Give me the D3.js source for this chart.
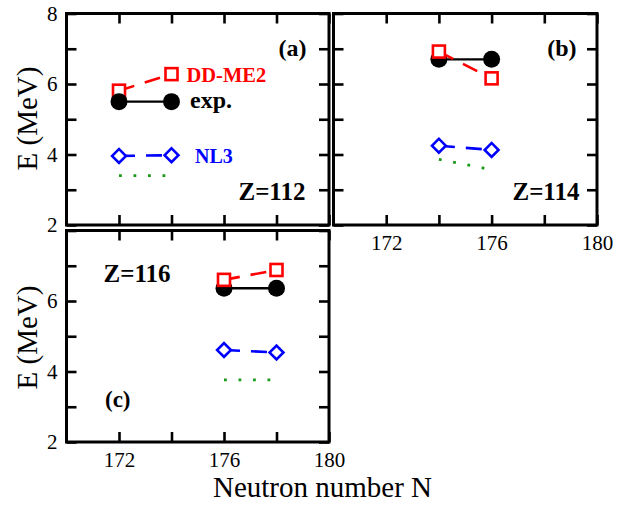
<!DOCTYPE html>
<html>
<head>
<meta charset="utf-8">
<script src="https://cdn.jsdelivr.net/npm/d3@7"></script>
<style>
    body { margin: 0; background: #fff; }
    svg { display: block; }
    svg text { font-family: "Liberation Serif", "Times New Roman", Times, "DejaVu Serif", serif; }
</style>
</head>
<body>
<svg id="chart" width="634" height="506"></svg>
<script>
// axis ranges and ticks
const nDomain = [170, 180];
const eDomain = [2, 8];
const nTicks = [172, 174, 176, 178, 180];
const nTickLabels = [172, 176, 180];
const eTicks = [2, 3, 4, 5, 6, 7, 8];
const eTickLabels = [2, 4, 6, 8];

// panel (a) Z=112
const nA = [172, 174];
const expA = [5.50, 5.50];
const ddme2A = [5.81, 6.28];
const nl3A = [3.96, 3.98];
const dotA = [3.40, 3.40];

// panel (b) Z=114
const nB = [174, 176];
const expB = [6.70, 6.70];
const ddme2B = [6.92, 6.16];
const nl3B = [4.25, 4.13];
const dotB = [3.86, 3.57];

// panel (c) Z=116
const nC = [176, 178];
const expC = [6.36, 6.36];
const ddme2C = [6.60, 6.88];
const nl3C = [4.61, 4.54];
const dotC = [3.76, 3.76];

const FONT = '"Liberation Serif", "Times New Roman", Times, "DejaVu Serif", serif';

const svg = d3.select("#chart");

const panels = [
    {id: "a", box: {x: 66.5, y: 13.5, w: 262.5, h: 211.5}, n: nA, exp: expA, dd: ddme2A, nl3: nl3A, dot: dotA,
        yLabels: eTickLabels, xLabels: false, expOnTop: true},
    {id: "b", box: {x: 333.5, y: 13.5, w: 263.5, h: 211.5}, n: nB, exp: expB, dd: ddme2B, nl3: nl3B, dot: dotB,
        yLabels: null, xLabels: true, expOnTop: false},
    {id: "c", box: {x: 66.5, y: 230.5, w: 262.5, h: 211.5}, n: nC, exp: expC, dd: ddme2C, nl3: nl3C, dot: dotC,
        yLabels: [2, 4, 6], xLabels: true, expOnTop: false}
];

const fontTick = 21;

function drawPanel(p) {
    const g = svg.append("g")
        .attr("id", `panel-${p.id}`)
        .attr("transform", `translate(${p.box.x},${p.box.y})`);

    const x = d3.scaleLinear().domain(nDomain).range([0, p.box.w]);
    const y = d3.scaleLinear().domain(eDomain).range([p.box.h, 0]);

    // inward ticks on all four sides
    const tickAxes = [
        {axis: d3.axisBottom(x).tickValues(nTicks), t: `translate(0,${p.box.h})`},
        {axis: d3.axisTop(x).tickValues(nTicks), t: "translate(0,0)"},
        {axis: d3.axisLeft(y).tickValues(eTicks), t: "translate(0,0)"},
        {axis: d3.axisRight(y).tickValues(eTicks), t: `translate(${p.box.w},0)`}
    ];
    tickAxes.forEach(a => {
        const ag = g.append("g")
            .attr("class", "ticks")
            .attr("transform", a.t)
            .call(a.axis.tickSize(-10).tickFormat(""));
        ag.select(".domain").remove();
        ag.selectAll("line").attr("stroke", "#000").attr("stroke-width", 2.6);
    });

    // tick labels
    if (p.yLabels) {
        const yl = g.append("g")
            .call(d3.axisLeft(y).tickValues(p.yLabels).tickFormat(d3.format("d")).tickSize(0).tickPadding(9));
        yl.select(".domain").remove();
        yl.attr("font-family", FONT);
        yl.selectAll("text")
            .attr("font-size", fontTick)
            .attr("fill", "#000");
    }
    if (p.xLabels) {
        const xl = g.append("g")
            .attr("transform", `translate(0,${p.box.h})`)
            .call(d3.axisBottom(x).tickValues(nTickLabels).tickFormat(d3.format("d")).tickSize(0).tickPadding(10));
        xl.select(".domain").remove();
        xl.attr("font-family", FONT);
        xl.selectAll("text")
            .attr("font-size", fontTick)
            .attr("fill", "#000");
    }

    const pts = (vals) => p.n.map((n, i) => [x(n), y(vals[i])]);
    const line = d3.line();

    // green dotted curve
    g.append("path")
        .attr("d", line(pts(p.dot)))
        .attr("fill", "none")
        .attr("stroke", "#1a9a1a")
        .attr("stroke-width", 2.8)
        .attr("stroke-dasharray", "2.8,11.7");

    // NL3
    g.append("path")
        .attr("d", line(pts(p.nl3)))
        .attr("fill", "none")
        .attr("stroke", "#0000ff")
        .attr("stroke-width", 2.6)
        .attr("stroke-dasharray", "16,11");
    g.append("g").selectAll("path")
        .data(pts(p.nl3))
        .join("path")
        .attr("transform", d => `translate(${d[0]},${d[1]}) rotate(45)`)
        .attr("d", d3.symbol(d3.symbolSquare, 96)())
        .attr("fill", "#fff")
        .attr("stroke", "#0000ff")
        .attr("stroke-width", 2.6);

    const drawExp = () => {
        g.append("path")
            .attr("d", line(pts(p.exp)))
            .attr("fill", "none")
            .attr("stroke", "#000")
            .attr("stroke-width", 2.4);
        g.append("g").selectAll("circle")
            .data(pts(p.exp))
            .join("circle")
            .attr("cx", d => d[0])
            .attr("cy", d => d[1])
            .attr("r", 8.5)
            .attr("fill", "#000");
    };
    const drawDD = () => {
        g.append("path")
            .attr("d", line(pts(p.dd)))
            .attr("fill", "none")
            .attr("stroke", "#ff0000")
            .attr("stroke-width", 2.6)
            .attr("stroke-dasharray", "16,11");
        g.append("g").selectAll("rect")
            .data(pts(p.dd))
            .join("rect")
            .attr("x", d => d[0] - 6)
            .attr("y", d => d[1] - 6)
            .attr("width", 12)
            .attr("height", 12)
            .attr("fill", "#fff")
            .attr("stroke", "#ff0000")
            .attr("stroke-width", 2.6);
    };
    if (p.expOnTop) { drawDD(); drawExp(); } else { drawExp(); drawDD(); }

    // frame
    g.append("rect")
        .attr("width", p.box.w)
        .attr("height", p.box.h)
        .attr("fill", "none")
        .attr("stroke", "#000")
        .attr("stroke-width", 3);

    return {g, x, y};
}

const [pa, pb, pc] = panels.map(drawPanel);

const bold = (sel, size, color) => sel
    .attr("font-family", FONT)
    .attr("font-weight", "bold")
    .attr("font-size", size)
    .attr("fill", color);

// panel (a) annotations
bold(pa.g.append("text").attr("x", 240).attr("y", 42).attr("text-anchor", "end").text("(a)"), 24, "#000");
bold(pa.g.append("text").attr("x", 239).attr("y", 186.5).attr("text-anchor", "end").text("Z=112"), 25, "#000");
bold(pa.g.append("text").attr("x", 120).attr("y", 68.5).text("DD-ME2"), 20.5, "#ff0000");
bold(pa.g.append("text").attr("x", 123.5).attr("y", 94.5).text("exp."), 24, "#000");
bold(pa.g.append("text").attr("x", 128.5).attr("y", 149.5).text("NL3"), 20, "#0000ff");

// panel (b) annotations
bold(pb.g.append("text").attr("x", 243).attr("y", 42).attr("text-anchor", "end").text("(b)"), 24, "#000");
bold(pb.g.append("text").attr("x", 246).attr("y", 186.5).attr("text-anchor", "end").text("Z=114"), 25, "#000");

// panel (c) annotations
bold(pc.g.append("text").attr("x", 37).attr("y", 51.5).text("Z=116"), 25, "#000");
bold(pc.g.append("text").attr("x", 38.5).attr("y", 176).text("(c)"), 23, "#000");

// axis titles
[pa, pc].forEach((p, i) => {
    svg.append("text")
        .attr("transform", `translate(37,${i === 0 ? 118.5 : 337.5}) rotate(-90)`)
        .attr("text-anchor", "middle")
        .attr("font-family", FONT)
        .attr("font-size", 29)
        .text("E (MeV)");
});

svg.append("text")
    .attr("x", 322.5)
    .attr("y", 497)
    .attr("text-anchor", "middle")
    .attr("font-family", FONT)
    .attr("font-size", 29)
    .text("Neutron number N");
</script>
</body>
</html>
